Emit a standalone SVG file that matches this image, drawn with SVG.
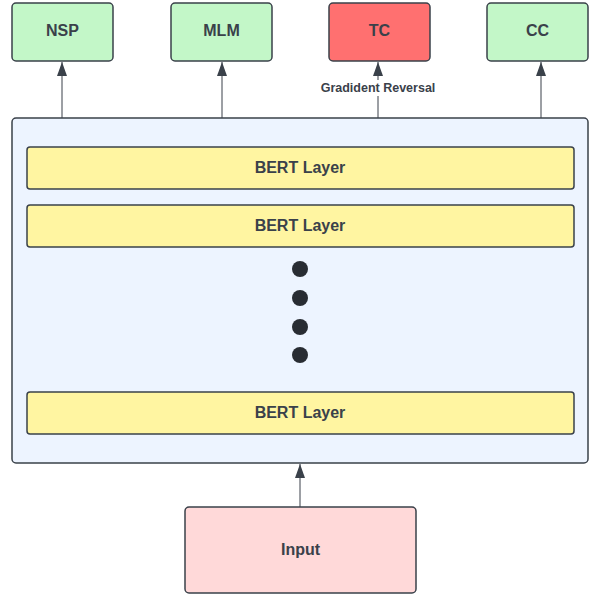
<svg xmlns="http://www.w3.org/2000/svg" width="591" height="595" viewBox="0 0 591 595">
<defs>
<marker id="ah" markerWidth="14" markerHeight="10" refX="14" refY="5" orient="auto" markerUnits="userSpaceOnUse" viewBox="0 0 14 10">
<path d="M0,0 L14,5 L0,10 Z" fill="#3a414a"/>
</marker>
<style>
.box{stroke:#3a414a;stroke-width:1.5}
.t{font-family:"Liberation Sans",Arial,sans-serif;font-weight:bold;font-size:16px;fill:#3a414a;text-anchor:middle;dominant-baseline:central}
.lbl{font-family:"Liberation Sans",Arial,sans-serif;font-weight:bold;font-size:12.5px;fill:#3a414a;text-anchor:middle;dominant-baseline:central}
.c{stroke:#3a414a;stroke-width:1;fill:none}
</style>
</defs>
<rect width="591" height="595" fill="#ffffff"/>
<g id="encoder">
<rect class="box" x="12" y="118" width="576" height="345" rx="4" fill="#edf4ff"/>
</g>
<g id="layer1"><rect class="box" x="27" y="147" width="547" height="42" rx="3" fill="#fff5a1"/><text class="t" x="300" y="167">BERT Layer</text></g>
<g id="layer2"><rect class="box" x="27" y="205" width="547" height="42" rx="3" fill="#fff5a1"/><text class="t" x="300" y="225">BERT Layer</text></g>
<g id="dots" fill="#282c33">
<circle cx="300" cy="269" r="8"/><circle cx="300" cy="298" r="8"/><circle cx="300" cy="327" r="8"/><circle cx="300" cy="355" r="8"/>
</g>
<g id="layer3"><rect class="box" x="27" y="392" width="547" height="42" rx="3" fill="#fff5a1"/><text class="t" x="300" y="412">BERT Layer</text></g>
<g id="nsp"><rect class="box" x="12" y="3" width="101" height="58" rx="4" fill="#c3f7c8"/><text class="t" x="62.5" y="30">NSP</text></g>
<g id="mlm"><rect class="box" x="171" y="3" width="101" height="58" rx="4" fill="#c3f7c8"/><text class="t" x="221.5" y="30">MLM</text></g>
<g id="tc"><rect class="box" x="329" y="3" width="101" height="58" rx="4" fill="#ff7070"/><text class="t" x="379.5" y="30">TC</text></g>
<g id="cc"><rect class="box" x="487" y="3" width="101" height="58" rx="4" fill="#c3f7c8"/><text class="t" x="537.5" y="30">CC</text></g>
<g id="input"><rect class="box" x="185" y="507" width="231" height="86" rx="4" fill="#ffd9d9"/><text class="t" x="300.5" y="549">Input</text></g>
<g id="connectors">
<line class="c" x1="62" y1="118" x2="62" y2="62" marker-end="url(#ah)"/>
<line class="c" x1="222" y1="118" x2="222" y2="62" marker-end="url(#ah)"/>
<line class="c" x1="378" y1="118" x2="378" y2="62" marker-end="url(#ah)"/>
<line class="c" x1="541" y1="118" x2="541" y2="62" marker-end="url(#ah)"/>
<line class="c" x1="300" y1="507" x2="300" y2="464" marker-end="url(#ah)"/>
<rect x="318" y="80" width="120" height="16" fill="#ffffff"/>
<text class="lbl" x="378" y="88">Gradident Reversal</text>
</g>
</svg>
